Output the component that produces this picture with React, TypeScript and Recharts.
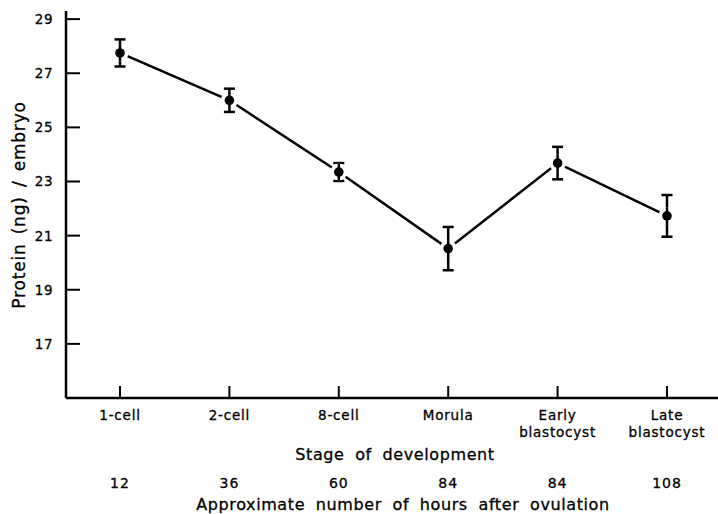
import { LineChart, Line, XAxis, YAxis, ErrorBar, Label } from "recharts";

const stages = ["1-cell", "2-cell", "8-cell", "Morula", "Early blastocyst", "Late blastocyst"];
const hours = [12, 36, 60, 84, 84, 108];
const protein = [27.75, 26.0, 23.35, 20.52, 23.68, 21.73];
const sem = [0.5, 0.43, 0.33, 0.8, 0.6, 0.77];
const yTicks = [17, 19, 21, 23, 25, 27, 29];

const data = stages.map((stage, i) => ({
  stage,
  hours: hours[i],
  protein: protein[i],
  err: sem[i],
}));

const FONT = "'DejaVu Sans', sans-serif";

function StageTick(props: any) {
  const { x, y, payload, index } = props;
  const lines = String(payload.value).split(" ");
  return (
    <g>
      <line x1={x} y1={y} x2={x} y2={y - 12} stroke="#000" strokeWidth={2} />
      {lines.map((l: string, i: number) => (
        <text
          key={i}
          x={x}
          y={y + 22 + i * 17}
          textAnchor="middle"
          fontSize={13.5}
          letterSpacing={0.8}
          stroke="#000"
          strokeWidth={0.3}
          fill="#000"
        >
          {l}
        </text>
      ))}
      <text x={x} y={y + 90} textAnchor="middle" fontSize={14} letterSpacing={1} stroke="#000" strokeWidth={0.3} fill="#000">
        {hours[index]}
      </text>
    </g>
  );
}

function ProteinTick(props: any) {
  const { x, y, payload } = props;
  return (
    <g>
      <line x1={x} y1={y} x2={x + 14} y2={y} stroke="#000" strokeWidth={2} />
      <text x={x - 13} y={y + 5} textAnchor="end" fontSize={13.5} letterSpacing={0.5} stroke="#000" strokeWidth={0.3} fill="#000">
        {payload.value}
      </text>
    </g>
  );
}

// filled marker with a small white gap around it, like the hand-inked original
function Marker(props: any) {
  const { cx, cy } = props;
  if (cx == null || cy == null) return null;
  return (
    <g>
      <circle cx={cx} cy={cy} r={8.5} fill="#fff" />
      <line x1={cx} y1={cy - 8.5} x2={cx} y2={cy + 8.5} stroke="#000" strokeWidth={2.5} />
      <circle cx={cx} cy={cy} r={4.8} fill="#000" />
    </g>
  );
}

export default function App() {
  return (
    <div style={{ position: "absolute", left: 0, top: 0, width: 718, height: 514, overflow: "hidden", background: "#fff", fontFamily: FONT }}>
      <LineChart
        width={722}
        height={514}
        data={data}
        margin={{ top: 11, right: 0, bottom: 0, left: 0 }}
        style={{ fontFamily: FONT }}
      >
        <XAxis
          dataKey="stage"
          height={116}
          padding={{ left: 54, right: 55 }}
          tickSize={0}
          tickMargin={0}
          tick={<StageTick />}
          interval={0}
          axisLine={{ stroke: "#000", strokeWidth: 2.5 }}
        >
          <Label
            content={(p: any) => {
              const vb = p.viewBox;
              return (
                <g fill="#000" stroke="#000" strokeWidth={0.3} fontFamily={FONT}>
                  <text x={395} y={vb.y + 62} textAnchor="middle" fontSize={16} letterSpacing={0.6} wordSpacing={5}>
                    Stage of development
                  </text>
                  <text x={403} y={vb.y + 112} textAnchor="middle" fontSize={16} letterSpacing={0.6} wordSpacing={5}>
                    Approximate number of hours after ovulation
                  </text>
                </g>
              );
            }}
          />
        </XAxis>
        <YAxis
          width={66}
          domain={[15, 29.3]}
          ticks={yTicks}
          tickSize={0}
          tickMargin={0}
          tick={<ProteinTick />}
          axisLine={{ stroke: "#000", strokeWidth: 2.5 }}
        >
          <Label
            content={() => (
              <text
                x={25}
                y={205}
                transform="rotate(-90 25 205)"
                textAnchor="middle"
                fontSize={17}
                letterSpacing={0.8}
                wordSpacing={3}
                fill="#000"
                stroke="#000"
                strokeWidth={0.3}
                fontFamily={FONT}
              >
                Protein (ng) / embryo
              </text>
            )}
          />
        </YAxis>
        <Line
          dataKey="protein"
          type="linear"
          stroke="#000"
          strokeWidth={2.5}
          dot={<Marker />}
          isAnimationActive={false}
        >
          <ErrorBar dataKey="err" width={5.5} stroke="#000" strokeWidth={2.5} direction="y" />
        </Line>
      </LineChart>
    </div>
  );
}
